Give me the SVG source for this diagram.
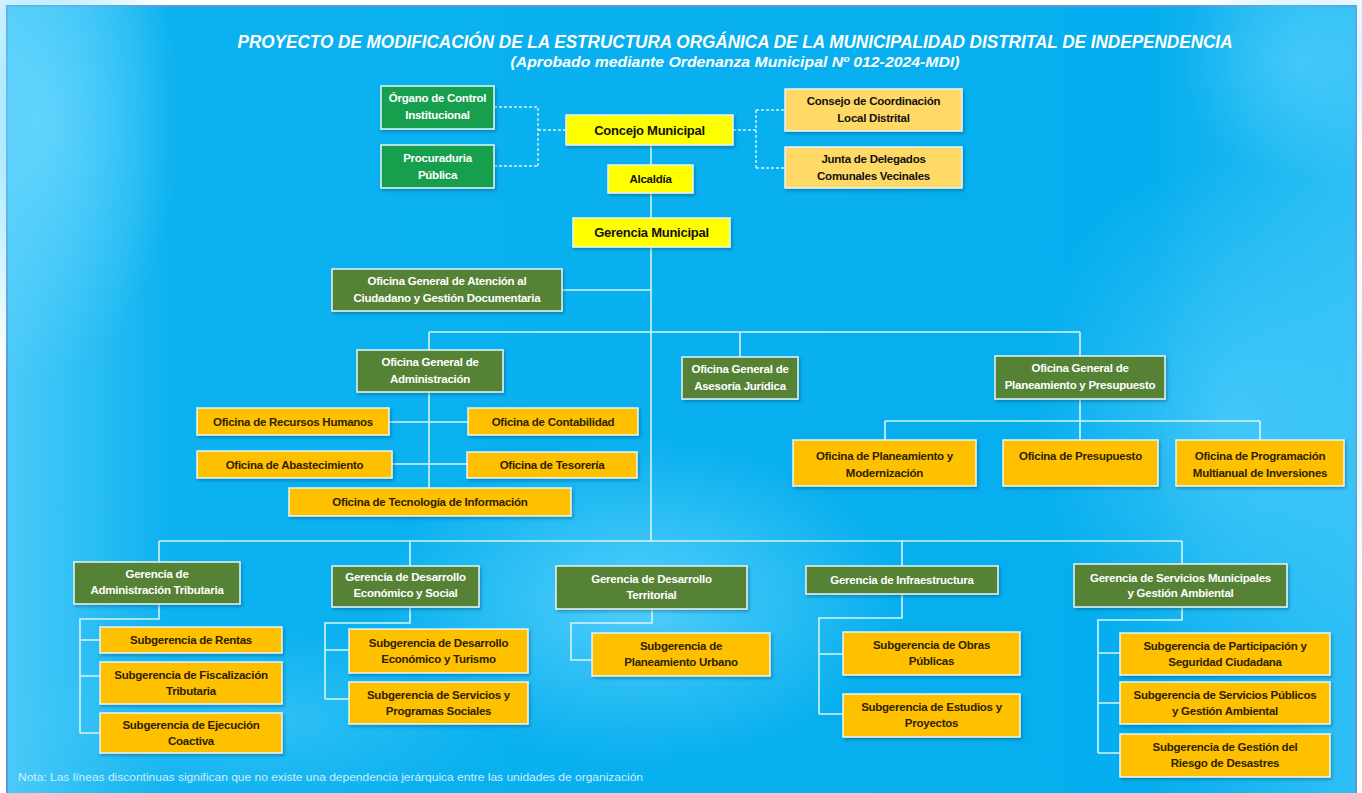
<svg xmlns="http://www.w3.org/2000/svg" width="1362" height="793" viewBox="0 0 1362 793">
<style>
.bx{stroke:#e3f6fd;stroke-width:1.5;filter:url(#sh)}
.g1{fill:#17a04e}.g2{fill:#548235}.o{fill:#ffc000}.y{fill:#ffff00}.lo{fill:#ffd966}
text{font-family:'Liberation Sans',Arial,sans-serif;font-weight:bold;font-size:11.5px;letter-spacing:-0.25px;text-anchor:middle}
.tw{fill:#ffffff}.tk{fill:#2e2200}.tb{fill:#111111}
.big{font-size:13px}
.ln{stroke:#d6f3fd;stroke-width:1.6;fill:none}
.dl{stroke:#d6f3fd;stroke-width:1.4;fill:none;stroke-dasharray:3 2}
</style>
<defs>
<filter id="sh" x="-10%" y="-20%" width="130%" height="150%"><feDropShadow dx="1.5" dy="2" stdDeviation="1.5" flood-color="#003050" flood-opacity="0.35"/></filter>
<linearGradient id="bg" x1="0" y1="0" x2="1" y2="0"><stop offset="0" stop-color="#4ccaf8"/><stop offset="0.12" stop-color="#0cb2f0"/><stop offset="0.85" stop-color="#05aeee"/><stop offset="1" stop-color="#2fc0f5"/></linearGradient>
<radialGradient id="r1" cx="0.5" cy="0.5" r="0.5"><stop offset="0" stop-color="#6cd8ff" stop-opacity="0.75"/><stop offset="1" stop-color="#6cd8ff" stop-opacity="0"/></radialGradient>
</defs>
<rect x="0" y="0" width="1362" height="793" fill="#ffffff"/>
<rect x="7" y="6" width="1349" height="790" fill="url(#bg)" stroke="#5b9bd5" stroke-width="2"/>
<ellipse cx="40" cy="120" rx="140" ry="260" fill="url(#r1)"/>
<ellipse cx="640" cy="600" rx="260" ry="160" fill="url(#r1)"/>
<ellipse cx="1230" cy="420" rx="200" ry="260" fill="url(#r1)" opacity="0.7"/>
<ellipse cx="260" cy="720" rx="240" ry="90" fill="url(#r1)" opacity="0.5"/>
<ellipse cx="1300" cy="60" rx="120" ry="120" fill="url(#r1)" opacity="0.6"/>

<g id="title">
<text x="735" y="48" class="tw" style="font-size:19px;font-style:italic;letter-spacing:0" textLength="995" lengthAdjust="spacingAndGlyphs">PROYECTO DE MODIFICACIÓN DE LA ESTRUCTURA ORGÁNICA DE LA MUNICIPALIDAD DISTRITAL DE INDEPENDENCIA</text>
<text x="735" y="67" class="tw" style="font-size:14px;font-style:italic;letter-spacing:0" textLength="449" lengthAdjust="spacingAndGlyphs">(Aprobado mediante Ordenanza Municipal Nº 012-2024-MDI)</text>
</g>

<g id="connectors">
<path class="dl" d="M494,107H538V166M494,166H538M538,130H566"/>
<path class="dl" d="M733,130H756M756,110V168M756,110H785M756,168H785"/>
<path class="ln" d="M651,145V541"/>
<path class="ln" d="M562,290H651"/>
<path class="ln" d="M429,332H1080M429,332V350M740,332V357M1080,332V356"/>
<path class="ln" d="M429,392V488M389,422H468M392,464H467"/>
<path class="ln" d="M1080,399V440M885,421H1260M885,421V440M1260,421V440"/>
<path class="ln" d="M159,541H1182M159,541V562M410,541V566M902,541V566M1182,541V564"/>
<path class="ln" d="M159,604V619H80V733M80,640H100M80,676H100M80,733H100"/>
<path class="ln" d="M410,607V623H325V699M325,650H349M325,699H349"/>
<path class="ln" d="M652,609V623H571V660H592"/>
<path class="ln" d="M902,594V618H819V714M819,654H843M819,714H843"/>
<path class="ln" d="M1182,607V620H1098V753M1098,653H1120M1098,703H1120M1098,753H1120"/>
</g>

<g id="n-oci"><rect class="bx g1" x="381" y="86" width="113" height="43"/><text class="tw" x="437.5" y="102">Órgano de Control</text><text class="tw" x="437.5" y="119">Institucional</text></g>
<g id="n-proc"><rect class="bx g1" x="381" y="145" width="113" height="43"/><text class="tw" x="437.5" y="162">Procuraduria</text><text class="tw" x="437.5" y="179">Pública</text></g>
<g id="n-concejo"><rect class="bx y" x="566" y="115" width="167" height="30"/><text class="tb big" x="649.5" y="134.5">Concejo Municipal</text></g>
<g id="n-ccld"><rect class="bx lo" x="785" y="89" width="177" height="42"/><text class="tb" x="873.5" y="105">Consejo de Coordinación</text><text class="tb" x="873.5" y="122">Local Distrital</text></g>
<g id="n-junta"><rect class="bx lo" x="785" y="147" width="177" height="41"/><text class="tb" x="873.5" y="163">Junta de Delegados</text><text class="tb" x="873.5" y="180">Comunales Vecinales</text></g>
<g id="n-alcaldia"><rect class="bx y" x="608" y="165" width="85" height="28"/><text class="tb" x="650.5" y="183">Alcaldía</text></g>
<g id="n-gm"><rect class="bx y" x="573" y="218" width="157" height="29"/><text class="tb big" x="651.5" y="237">Gerencia Municipal</text></g>

<g id="n-ogac"><rect class="bx g2" x="332" y="269" width="230" height="42"/><text class="tw" x="447" y="285">Oficina General de Atención al</text><text class="tw" x="447" y="302">Ciudadano y Gestión  Documentaria</text></g>
<g id="n-oga"><rect class="bx g2" x="357" y="350" width="146" height="42"/><text class="tw" x="430" y="366">Oficina General de</text><text class="tw" x="430" y="383">Administración</text></g>
<g id="n-ogaj"><rect class="bx g2" x="682" y="357" width="116" height="42"/><text class="tw" x="740" y="373">Oficina General de</text><text class="tw" x="740" y="390">Asesoría Jurídica</text></g>
<g id="n-ogpp"><rect class="bx g2" x="995" y="356" width="170" height="43"/><text class="tw" x="1080" y="372">Oficina General de</text><text class="tw" x="1080" y="389">Planeamiento y Presupuesto</text></g>

<g id="n-opm"><rect class="bx o" x="793" y="440" width="183" height="46"/><text class="tk" x="884.5" y="460">Oficina de Planeamiento y</text><text class="tk" x="884.5" y="477">Modernización</text></g>
<g id="n-opres"><rect class="bx o" x="1003" y="440" width="155" height="46"/><text class="tk" x="1080.5" y="460">Oficina de Presupuesto</text></g>
<g id="n-opmi"><rect class="bx o" x="1176" y="440" width="168" height="46"/><text class="tk" x="1260" y="460">Oficina de Programación</text><text class="tk" x="1260" y="477">Multianual de Inversiones</text></g>

<g id="n-orh"><rect class="bx o" x="197" y="408" width="192" height="27"/><text class="tk" x="293" y="425.5">Oficina de Recursos Humanos</text></g>
<g id="n-ocont"><rect class="bx o" x="468" y="408" width="170" height="27"/><text class="tk" x="553" y="425.5">Oficina de Contabilidad</text></g>
<g id="n-oabas"><rect class="bx o" x="197" y="451" width="195" height="27"/><text class="tk" x="294.5" y="468.5">Oficina de  Abastecimiento</text></g>
<g id="n-otes"><rect class="bx o" x="467" y="452" width="170" height="26"/><text class="tk" x="552" y="469">Oficina de Tesorería</text></g>
<g id="n-oti"><rect class="bx o" x="289" y="488" width="282" height="28"/><text class="tk" x="430" y="506">Oficina de Tecnología de Información</text></g>

<g id="n-gat"><rect class="bx g2" x="74" y="562" width="166" height="42"/><text class="tw" x="157" y="578">Gerencia de</text><text class="tw" x="157" y="594">Administración Tributaria</text></g>
<g id="n-gdes"><rect class="bx g2" x="332" y="566" width="147" height="41"/><text class="tw" x="405.5" y="581">Gerencia de  Desarrollo</text><text class="tw" x="405.5" y="597">Económico y Social</text></g>
<g id="n-gdt"><rect class="bx g2" x="556" y="566" width="191" height="43"/><text class="tw" x="651.5" y="583">Gerencia de  Desarrollo</text><text class="tw" x="651.5" y="599">Territorial</text></g>
<g id="n-gi"><rect class="bx g2" x="806" y="566" width="192" height="28"/><text class="tw" x="902" y="584">Gerencia de Infraestructura</text></g>
<g id="n-gsm"><rect class="bx g2" x="1074" y="564" width="213" height="43"/><text class="tw" x="1180.5" y="582">Gerencia de Servicios Municipales</text><text class="tw" x="1180.5" y="597">y Gestión Ambiental</text></g>

<g id="n-sgr"><rect class="bx o" x="100" y="627" width="182" height="26"/><text class="tk" x="191" y="644">Subgerencia de Rentas</text></g>
<g id="n-sgft"><rect class="bx o" x="100" y="662" width="182" height="42"/><text class="tk" x="191" y="679">Subgerencia de Fiscalización</text><text class="tk" x="191" y="695">Tributaria</text></g>
<g id="n-sgec"><rect class="bx o" x="100" y="713" width="182" height="40"/><text class="tk" x="191" y="729">Subgerencia de Ejecución</text><text class="tk" x="191" y="745">Coactiva</text></g>
<g id="n-sgdet"><rect class="bx o" x="349" y="629" width="179" height="44"/><text class="tk" x="438.5" y="647">Subgerencia de Desarrollo</text><text class="tk" x="438.5" y="663">Económico y Turismo</text></g>
<g id="n-sgsps"><rect class="bx o" x="349" y="682" width="179" height="42"/><text class="tk" x="438.5" y="699">Subgerencia de Servicios y</text><text class="tk" x="438.5" y="715">Programas Sociales</text></g>
<g id="n-sgpu"><rect class="bx o" x="592" y="633" width="178" height="43"/><text class="tk" x="681" y="650">Subgerencia de</text><text class="tk" x="681" y="666">Planeamiento Urbano</text></g>
<g id="n-sgop"><rect class="bx o" x="843" y="632" width="177" height="43"/><text class="tk" x="931.5" y="649">Subgerencia de Obras</text><text class="tk" x="931.5" y="665">Públicas</text></g>
<g id="n-sgep"><rect class="bx o" x="843" y="694" width="177" height="43"/><text class="tk" x="931.5" y="711">Subgerencia de Estudios y</text><text class="tk" x="931.5" y="727">Proyectos</text></g>
<g id="n-sgpsc"><rect class="bx o" x="1120" y="633" width="210" height="42"/><text class="tk" x="1225" y="650">Subgerencia de Participación y</text><text class="tk" x="1225" y="666">Seguridad Ciudadana</text></g>
<g id="n-sgspga"><rect class="bx o" x="1120" y="682" width="210" height="42"/><text class="tk" x="1225" y="699">Subgerencia de Servicios Públicos</text><text class="tk" x="1225" y="715">y Gestión Ambiental</text></g>
<g id="n-sggrd"><rect class="bx o" x="1120" y="734" width="210" height="43"/><text class="tk" x="1225" y="751">Subgerencia de Gestión del</text><text class="tk" x="1225" y="767">Riesgo de Desastres</text></g>

<g id="note"><text x="18" y="781" style="font-weight:normal;font-size:11px;letter-spacing:0;text-anchor:start;fill:#cdeefb" textLength="625" lengthAdjust="spacingAndGlyphs">Nota: Las líneas discontinuas significan que no existe una dependencia jerárquica entre las unidades de organización</text></g>
</svg>
